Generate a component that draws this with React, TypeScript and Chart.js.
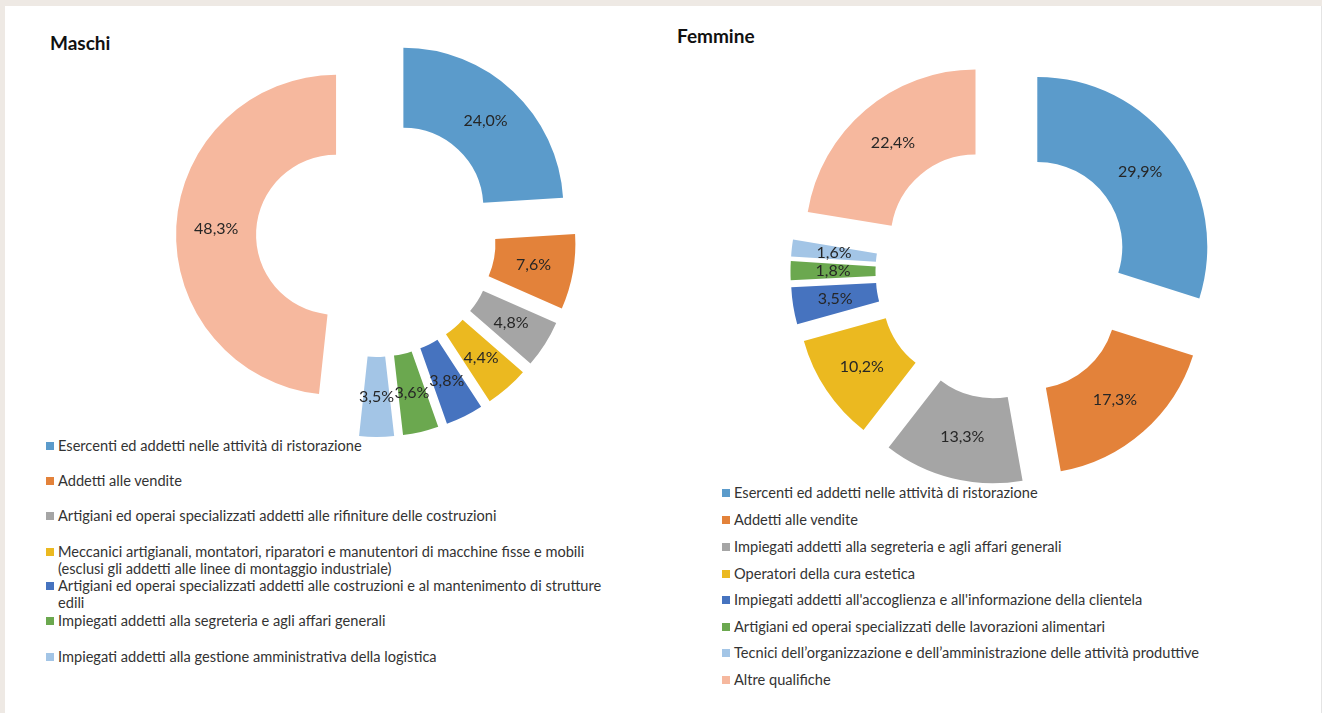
import React, { useEffect, useRef } from 'react';
import { Chart, ArcElement, DoughnutController, registerables } from 'chart.js';

// ---------- DATA ----------
const maschiCategories = [
  'Esercenti ed addetti nelle attività di ristorazione',
  'Addetti alle vendite',
  'Artigiani ed operai specializzati addetti alle rifiniture delle costruzioni',
  'Meccanici artigianali, montatori, riparatori e manutentori di macchine fisse e mobili (esclusi gli addetti alle linee di montaggio industriale)',
  'Artigiani ed operai specializzati addetti alle costruzioni e al mantenimento di strutture edili',
  'Impiegati addetti alla segreteria e agli affari generali',
  'Impiegati addetti alla gestione amministrativa della logistica',
  'Altre qualifiche',
];
const maschiValues = [24.0, 7.6, 4.8, 4.4, 3.8, 3.6, 3.5, 48.3];
const maschiLegendLabels = [
  'Esercenti ed addetti nelle attività di ristorazione',
  'Addetti alle vendite',
  'Artigiani ed operai specializzati addetti alle rifiniture delle costruzioni',
  'Meccanici artigianali, montatori, riparatori e manutentori di macchine fisse e mobili\n(esclusi gli addetti alle linee di montaggio industriale)',
  'Artigiani ed operai specializzati addetti alle costruzioni e al mantenimento di strutture\nedili',
  'Impiegati addetti alla segreteria e agli affari generali',
  'Impiegati addetti alla gestione amministrativa della logistica',
];

const femmineCategories = [
  'Esercenti ed addetti nelle attività di ristorazione',
  'Addetti alle vendite',
  'Impiegati addetti alla segreteria e agli affari generali',
  'Operatori della cura estetica',
  "Impiegati addetti all'accoglienza e all'informazione della clientela",
  'Artigiani ed operai specializzati delle lavorazioni alimentari',
  'Tecnici dell’organizzazione e dell’amministrazione delle attività produttive',
  'Altre qualifiche',
];
const femmineValues = [29.9, 17.3, 13.3, 10.2, 3.5, 1.8, 1.6, 22.4];

// ---------- STYLE / LAYOUT ----------
const COLORS = ['#5B9BCB', '#E3823A', '#A5A5A5', '#EBB920', '#4673BF', '#6BA84F', '#A3C5E6', '#F6B89E'];
const EXPLODE = 0.25;
const FONT = 'Lato, "Open Sans", sans-serif';

const maschiLegendRows = [446, 481, 516, 552, 586, 621, 657];
const femmineLegendRows = [493, 520, 547, 574, 600, 627, 653, 680];

class ExplodedArc extends ArcElement {
  static id = 'explodedArc';
  draw(ctx: CanvasRenderingContext2D) {
    const self: any = this;
    const mid = (self.startAngle + self.endAngle) / 2;
    const d = self.outerRadius * EXPLODE;
    ctx.save();
    ctx.translate(Math.cos(mid) * d, Math.sin(mid) * d);
    super.draw(ctx);
    ctx.restore();
  }
}

class ExplodedDoughnutController extends DoughnutController {
  static id = 'explodedDoughnut';
  static defaults = { ...(DoughnutController as any).defaults, dataElementType: 'explodedArc' };
}

Chart.register(...registerables);
Chart.register(ExplodedArc as any, ExplodedDoughnutController as any);

const fmt = (v: number) => v.toFixed(1).replace('.', ',') + '%';

const pctLabels = {
  id: 'pctLabels',
  afterDatasetsDraw(chart: any) {
    const ctx = chart.ctx;
    const meta = chart.getDatasetMeta(0);
    const vals = chart.data.datasets[0].data as number[];
    ctx.save();
    ctx.font = '16px ' + FONT;
    ctx.fillStyle = '#262626';
    ctx.textAlign = 'center';
    ctx.textBaseline = 'middle';
    meta.data.forEach((arc: any, i: number) => {
      const p = arc.getProps(['x', 'y', 'startAngle', 'endAngle', 'innerRadius', 'outerRadius'], true);
      const mid = (p.startAngle + p.endAngle) / 2;
      const r = (p.innerRadius + p.outerRadius) / 2 + p.outerRadius * EXPLODE;
      ctx.fillText(fmt(vals[i]), p.x + Math.cos(mid) * r, p.y + Math.sin(mid) * r);
    });
    ctx.restore();
  },
};

function Donut(props: { labels: string[]; values: number[]; radius: number; left: number; top: number; size: number }) {
  const ref = useRef<HTMLCanvasElement>(null);
  useEffect(() => {
    if (!ref.current) return;
    const chart = new Chart(ref.current, {
      type: 'explodedDoughnut' as any,
      data: {
        labels: props.labels,
        datasets: [
          {
            data: props.values,
            backgroundColor: COLORS,
            borderWidth: 0,
            radius: props.radius,
            cutout: '50%',
          } as any,
        ],
      },
      options: {
        responsive: false,
        animation: false,
        cutout: '50%',
        layout: { padding: 0 },
        events: [],
        plugins: { legend: { display: false }, tooltip: { enabled: false }, title: { display: false } },
      } as any,
      plugins: [pctLabels],
    });
    let alive = true;
    if ((document as any).fonts && (document as any).fonts.load) {
      (document as any).fonts.load('16px Lato').then(() => {
        if (alive) chart.update();
      });
    }
    return () => {
      alive = false;
      chart.destroy();
    };
  }, []);
  return (
    <canvas
      ref={ref}
      width={props.size}
      height={props.size}
      style={{ position: 'absolute', left: props.left, top: props.top, width: props.size, height: props.size }}
    />
  );
}

function Legend(props: { labels: string[]; rows: number[]; left: number }) {
  return (
    <>
      {props.labels.map((lab, i) => (
        <div
          key={i}
          style={{
            position: 'absolute',
            left: props.left,
            top: props.rows[i] - 9,
            display: 'flex',
            alignItems: 'flex-start',
            font: '14.6px ' + FONT,
            lineHeight: '17px',
            color: '#333',
            whiteSpace: 'pre',
          }}
        >
          <span
            style={{
              display: 'inline-block',
              width: 8,
              height: 8,
              marginTop: 5,
              marginRight: 4,
              background: COLORS[i],
              flex: 'none',
            }}
          />
          <span>{lab}</span>
        </div>
      ))}
    </>
  );
}

export default function App() {
  return (
    <div
      style={{
        position: 'absolute',
        left: 0,
        top: 0,
        width: 1322,
        height: 713,
        background: '#EEE9E4',
        overflow: 'hidden',
        fontFamily: FONT,
      }}
    >
      <div
        style={{
          position: 'absolute',
          left: 5,
          top: 6,
          width: 1316,
          height: 720,
          background: '#FFFFFF',
          borderRight: '1px solid #E4E4E4',
        }}
      />
      <div style={{ position: 'absolute', left: 50, top: 32, font: 'bold 19px ' + FONT, lineHeight: '22px', color: '#111' }}>Maschi</div>
      <div style={{ position: 'absolute', left: 677, top: 25, font: 'bold 19px ' + FONT, lineHeight: '22px', color: '#111' }}>Femmine</div>
      <Legend labels={maschiLegendLabels} rows={maschiLegendRows} left={46} />
      <Legend labels={femmineCategories} rows={femmineLegendRows} left={722} />
      <Donut labels={maschiCategories} values={maschiValues} radius={160} left={376 - 210} top={237 - 210} size={420} />
      <Donut labels={femmineCategories} values={femmineValues} radius={170} left={1003 - 220} top={272 - 220} size={440} />
    </div>
  );
}
